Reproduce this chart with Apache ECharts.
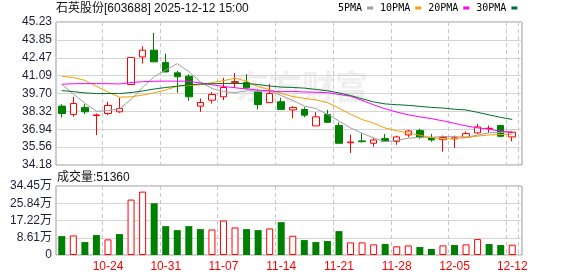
<!DOCTYPE html>
<html>
<head>
<meta charset="utf-8">
<script src="https://cdn.jsdelivr.net/npm/echarts@6/dist/echarts.min.js"></script>
<style>
html,body{margin:0;padding:0;background:#fff;}
#c{width:578px;height:276px;}
</style>
</head>
<body>
<div id="c"></div>
<script>
const titleText = '石英股份[603688] 2025-12-12 15:00';
const dates = ['10-20','10-21','10-22','10-23','10-24','10-27','10-28','10-29','10-30','10-31',
  '11-03','11-04','11-05','11-06','11-07','11-10','11-11','11-12','11-13','11-14',
  '11-17','11-18','11-19','11-20','11-21','11-24','11-25','11-26','11-27','11-28',
  '12-01','12-02','12-03','12-04','12-05','12-08','12-09','12-10','12-11','12-12'];
const opens  = [38.73,38.09,38.63,38.00,38.16,38.29,40.40,42.53,43.05,42.09,
  41.30,41.04,38.73,39.19,39.45,40.55,40.55,39.82,39.00,39.07,
  38.44,38.47,37.20,38.08,37.23,35.90,36.04,35.86,36.22,36.01,
  36.50,36.84,36.27,36.14,36.20,36.32,36.66,37.00,37.23,36.35];
const closes = [38.16,38.93,38.29,38.05,38.78,38.55,42.48,43.05,42.15,41.37,
  41.00,39.45,39.01,39.63,40.17,40.62,40.14,38.85,39.70,38.46,
  38.62,38.03,37.90,37.48,35.86,35.96,35.98,36.11,36.01,36.35,
  36.81,36.32,36.12,36.30,36.28,36.61,37.12,37.02,36.40,36.71];
const lows   = [37.85,37.91,38.11,36.49,38.03,38.21,40.38,42.02,42.13,41.35,
  39.76,39.14,38.29,38.93,39.19,40.12,40.04,38.47,38.98,38.44,
  37.79,37.87,37.20,37.43,35.86,35.11,35.93,35.60,35.99,35.75,
  36.32,36.19,35.99,35.21,35.50,36.30,36.58,36.66,36.32,36.01];
const highs  = [38.88,39.45,38.88,38.16,39.06,39.37,42.50,43.35,44.38,42.79,
  41.45,41.20,39.32,39.81,40.91,41.28,41.20,40.01,40.46,39.38,
  38.72,38.65,38.26,38.44,37.48,36.53,36.65,36.24,36.58,36.45,
  36.89,36.98,36.58,36.45,36.45,36.76,37.35,37.23,37.28,36.83];
const volumes = [94450,97760,64620,99420,77880,104390,276720,316490,258490,144160,
  124280,144160,129250,127590,172330,137530,129250,124280,132560,164040,
  96110,74570,64620,69590,119300,62970,62970,53020,54680,43080,
  48050,39770,29830,48050,49710,53020,79540,54680,49710,51360];
const ma5  = [40.40,39.68,38.95,38.33,38.38,38.52,39.23,40.18,41.00,41.52,
  42.01,41.40,40.60,40.09,39.85,39.78,39.91,39.88,39.90,39.56,
  39.16,38.74,38.54,38.10,37.58,37.05,36.64,36.28,35.98,36.08,
  36.25,36.32,36.32,36.38,36.37,36.33,36.49,36.67,36.69,36.77];
const ma10 = [41.03,40.94,40.72,40.27,39.82,39.42,39.45,39.58,39.76,39.98,
  40.27,40.32,40.39,40.55,40.69,40.89,40.66,40.24,40.00,39.71,
  39.47,39.33,39.21,39.00,38.57,38.10,37.69,37.41,37.04,36.83,
  36.65,36.48,36.30,36.18,36.23,36.29,36.41,36.50,36.54,36.57];
const ma20 = [40.42,40.46,40.47,40.47,40.46,40.44,40.55,40.62,40.65,40.66,
  40.66,40.65,40.52,40.38,40.25,40.15,40.05,39.97,39.90,39.84,
  39.87,39.82,39.80,39.77,39.63,39.50,39.17,38.83,38.52,38.27,
  38.06,37.90,37.76,37.59,37.40,37.20,37.05,36.95,36.79,36.70];
const ma30 = [39.93,39.85,39.75,39.70,39.70,39.70,39.78,39.90,40.05,40.17,
  40.27,40.38,40.43,40.46,40.48,40.48,40.47,40.40,40.28,40.20,
  40.17,40.12,40.02,39.92,39.75,39.55,39.30,39.05,38.90,38.84,
  38.79,38.71,38.63,38.58,38.49,38.43,38.25,38.05,37.86,37.70];
const maNames = ['5PMA','10PMA','20PMA','30PMA'];
const priceMin = 34.18, priceStep = 1.3811;
const volStep = 86120;

const UP = '#ff0000', DOWN = '#008000';
const candleData = dates.map((d, i) => [opens[i], closes[i], lows[i], highs[i]]);
const volData = volumes.map((v, i) => {
  const up = i === 0 ? closes[0] >= opens[0] : closes[i] >= closes[i - 1];
  return { value: v, itemStyle: up ? { color: '#fff', borderColor: UP, borderWidth: 1 } : { color: DOWN, borderColor: DOWN, borderWidth: 0 } };
});
const labelEvery = (idx) => idx % 5 === 4;

const chart = echarts.init(document.getElementById('c'), null, { renderer: 'canvas' });
const axFont = { fontFamily: 'Liberation Sans, Arial, sans-serif', fontSize: 12 };
const hSplit = { show: true, lineStyle: { color: '#d4d4d4', width: 1, type: 'solid' } };
const vSplit = { show: true, interval: labelEvery, lineStyle: { color: '#c8c8c8', width: 1, type: [4, 3] } };
const maColors = ['#a0a0a0', '#f5a000', '#ff00ff', '#00702c'];
const maData = [ma5, ma10, ma20, ma30];
const txtFont = '12px "Liberation Sans","Noto Sans CJK SC",sans-serif';

chart.setOption({
  animation: false,
  backgroundColor: '#fff',
  graphic: [
    { type: 'text', left: 56, top: 3, z: 10, style: { text: titleText, fill: '#111', font: txtFont } },
    { type: 'text', left: 57, top: 172, z: 10, style: { text: '成交量:' + volumes[volumes.length - 1], fill: '#111', font: txtFont } },
    { type: 'text', left: 236, top: 70, z: -1, style: { text: '东方财富', fill: '#efefef', font: 'bold 33px "Noto Sans CJK SC",sans-serif' } }
  ],
  legend: {
    left: 338, top: 3, padding: 0, align: 'right', icon: 'rect', itemWidth: 6, itemHeight: 3, itemGap: 7,
    data: maNames,
    textStyle: { fontFamily: 'DejaVu Sans Mono, monospace', fontSize: 10, color: '#000' }
  },
  grid: [
    { left: 56, top: 22, width: 466, height: 143, show: true, borderColor: '#999', borderWidth: 1 },
    { left: 56, top: 22, width: 462, height: 143 },
    { left: 56, top: 186, width: 466, height: 69, show: true, borderColor: '#999', borderWidth: 1 },
    { left: 56, top: 186, width: 462, height: 69 }
  ],
  xAxis: [
    { gridIndex: 0, type: 'value', min: 0, max: 1, show: false },
    { gridIndex: 1, type: 'category', data: dates, boundaryGap: true,
      axisLine: { show: false }, axisTick: { show: false }, axisLabel: { show: false }, splitLine: vSplit },
    { gridIndex: 2, type: 'value', min: 0, max: 1, show: false },
    { gridIndex: 3, type: 'category', data: dates, boundaryGap: true,
      axisLine: { show: false }, axisTick: { show: false },
      axisLabel: Object.assign({ interval: labelEvery, color: '#ff0000', margin: 6 }, axFont),
      splitLine: vSplit }
  ],
  yAxis: [
    { gridIndex: 0, type: 'value', min: priceMin, max: priceMin + 8 * priceStep, interval: priceStep,
      axisLine: { show: false }, axisTick: { show: false }, splitLine: hSplit,
      axisLabel: Object.assign({ color: '#1e1e38', margin: 4, formatter: (v) => v.toFixed(2) }, axFont) },
    { gridIndex: 1, type: 'value', min: priceMin, max: priceMin + 8 * priceStep, show: false, splitLine: { show: false } },
    { gridIndex: 2, type: 'value', min: 0, max: 4 * volStep, interval: volStep,
      axisLine: { show: false }, axisTick: { show: false }, splitLine: hSplit,
      axisLabel: Object.assign({ color: '#1e1e38', margin: 4, formatter: (v) => v === 0 ? '0' : (v / 10000).toFixed(2) + '万' },
        { fontFamily: 'Liberation Sans, "Noto Sans CJK SC", sans-serif', fontSize: 12 }) },
    { gridIndex: 3, type: 'value', min: 0, max: 4 * volStep, show: false, splitLine: { show: false } }
  ],
  series: [
    { type: 'candlestick', name: 'K', xAxisIndex: 1, yAxisIndex: 1, data: candleData, barWidth: 7,
      itemStyle: { color: '#fff', color0: DOWN, borderColor: UP, borderColor0: DOWN, borderColorDoji: UP, borderWidth: 1 } }
  ].concat(maNames.map((n, k) => ({
    type: 'line', name: n, xAxisIndex: 1, yAxisIndex: 1, data: maData[k], showSymbol: false, symbol: 'none',
    lineStyle: { color: maColors[k], width: 1 }, itemStyle: { color: maColors[k] }, z: 3
  }))).concat([
    { type: 'bar', name: 'VOL', xAxisIndex: 3, yAxisIndex: 3, data: volData, barWidth: 7 }
  ])
});
</script>
</body>
</html>
